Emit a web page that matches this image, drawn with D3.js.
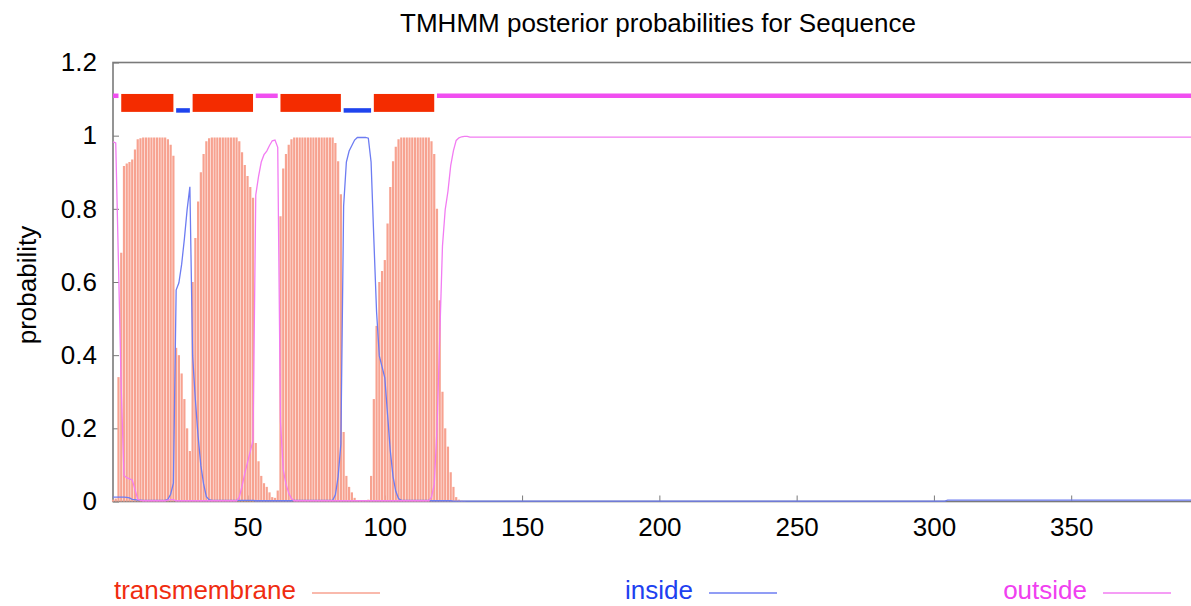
<!DOCTYPE html>
<html><head><meta charset="utf-8">
<script src="https://cdn.jsdelivr.net/npm/d3@7"></script>
<style>body{margin:0;background:#fff}svg{display:block}text{font-family:"Liberation Sans",Arial,Helvetica,sans-serif}</style>
</head><body><svg id="c" width="1191" height="606"></svg>
<script>
// posterior probabilities, residues 1..130 (index 0 = residue 1)
const tmProb = [
 .005,.008,.34,.68,.917,.924,.928,.935,.962,.99,
 .993,.995,.995,.995,.995,.995,.995,.995,.995,.995,
 .99,.975,.945,.42,.40,.35,.28,.20,.138,.60,
 .72,.82,.90,.95,.985,.993,.995,.995,.995,.995,
 .995,.995,.995,.995,.995,.995,.985,.955,.92,.89,
 .86,.83,.16,.11,.07,.05,.04,.025,.012,.01,
 .03,.78,.91,.95,.975,.99,.995,.995,.995,.995,
 .995,.995,.995,.995,.995,.995,.995,.995,.995,.995,
 .995,.98,.93,.84,.19,.07,.04,.025,.01,.003,
 .003,.003,.003,.005,.07,.28,.48,.60,.63,.66,
 .76,.86,.93,.97,.99,.995,.995,.995,.995,.995,
 .995,.995,.995,.995,.995,.995,.985,.95,.80,.55,
 .30,.20,.15,.08,.04,.012,.005,.002,.001,0];
const insideProb = [
 .012,.012,.012,.012,.012,.011,.01,.006,.005,.004,
 .004,.003,.003,.003,.003,.003,.003,.003,.003,.003,
 .006,.02,.05,.578,.598,.648,.718,.798,.86,.398,
 .278,.178,.098,.048,.013,.005,.003,.003,.003,.003,
 .003,.003,.003,.003,.003,.003,.003,.003,.003,.003,
 .003,.003,.002,.002,.002,.002,.002,.002,.002,.002,
 .002,.002,.002,.002,.002,.002,.003,.003,.003,.003,
 .003,.003,.003,.003,.003,.003,.003,.003,.003,.003,
 .003,.018,.068,.158,.808,.928,.958,.973,.988,.995,
 .995,.995,.995,.993,.928,.718,.518,.398,.368,.338,
 .238,.138,.068,.028,.008,.003,.003,.003,.003,.003,
 .003,.003,.003,.003,.003,.003,.002,.002,.002,.002,
 .002,.002,.002,.002,.001,.001,.001,.001,.001,.001];
const outsideProb = [
 .983,.98,.648,.308,.071,.065,.062,.059,.033,.006,
 .003,.002,.002,.002,.002,.002,.002,.002,.002,.002,
 .004,.005,.005,.002,.002,.002,.002,.002,.002,.002,
 .002,.002,.002,.002,.002,.002,.002,.002,.002,.002,
 .002,.002,.002,.002,.002,.002,.012,.042,.077,.107,
 .137,.167,.838,.888,.928,.948,.958,.973,.986,.988,
 .968,.218,.088,.048,.023,.008,.002,.002,.002,.002,
 .002,.002,.002,.002,.002,.002,.002,.002,.002,.002,
 .002,.002,.002,.002,.002,.002,.002,.002,.002,.002,
 .002,.002,.002,.002,.002,.002,.002,.002,.002,.002,
 .002,.002,.002,.002,.002,.002,.002,.002,.002,.002,
 .002,.002,.002,.002,.002,.002,.012,.047,.197,.447,
 .698,.798,.848,.918,.959,.987,.994,.997,.998,.998];
// flat tails after residue 130 (explicit points)
const insideTailPos = [131, 304, 305, 394];
const insideTailVal = [.001, .001, .004, .004];
const outsideTailPos = [131, 394];
const outsideTailVal = [.996, .996];
// predicted topology
const segType  = ["outside","TMhelix","inside","TMhelix","outside","TMhelix","inside","TMhelix","outside"];
const segStart = [1, 4, 24, 30, 53, 62, 85, 96, 119];
const segEnd   = [3, 23, 29, 52, 61, 84, 95, 118, 394];
const seqLength = 394;
const xTicks = [50,100,150,200,250,300,350];
const yTicks = [0,0.2,0.4,0.6,0.8,1,1.2];
const seriesNames = ["transmembrane","inside","outside"];
const titleText = "TMHMM posterior probabilities for Sequence";
const yLabel = "probability";

const svg = d3.select("#c");
const x = d3.scaleLinear().domain([1, seqLength]).range([113, 1192]);
const y = d3.scaleLinear().domain([0, 1.2]).range([501.5, 62.5]);
const FONT = 26;

// frame
svg.append("rect").attr("x", x(1)).attr("y", y(1.2)).attr("width", x(seqLength)-x(1)).attr("height", y(0)-y(1.2))
  .attr("fill","none").attr("stroke","#7a7a7a").attr("stroke-width",1.6);

// axes
const ya = svg.append("g").attr("transform",`translate(${x(1)},0)`)
  .call(d3.axisLeft(y).tickValues(yTicks).tickSizeInner(-6).tickSizeOuter(0).tickPadding(16)
    .tickFormat(d => String(+d.toFixed(1))));
ya.select(".domain").remove();
ya.selectAll("line").attr("stroke","#7a7a7a");
ya.selectAll("text").attr("font-size",FONT).attr("fill","#000").style("font-family",'"Liberation Sans",Arial,sans-serif');

const xa = svg.append("g").attr("transform",`translate(0,${y(0)})`)
  .call(d3.axisBottom(x).tickValues(xTicks).tickSizeInner(-6).tickSizeOuter(0).tickPadding(16));
xa.select(".domain").remove();
xa.selectAll("line").attr("stroke","#7a7a7a");
xa.selectAll("text").attr("font-size",FONT).attr("fill","#000").style("font-family",'"Liberation Sans",Arial,sans-serif');

// TM impulses
const tmData = tmProb.map((v,i)=>({p:i+1,v})).filter(d=>d.v>0);
svg.append("g").selectAll("line").data(tmData).join("line")
  .attr("x1",d=>x(d.p)).attr("x2",d=>x(d.p)).attr("y1",y(0)).attr("y2",d=>y(d.v))
  .attr("stroke","#f7a290").attr("stroke-width",2.2);

const line = d3.line().x(d=>x(d.p)).y(d=>y(d.v));
const insideData = insideProb.map((v,i)=>({p:i+1,v})).concat(insideTailPos.map((p,i)=>({p,v:insideTailVal[i]})));
const outsideData = outsideProb.map((v,i)=>({p:i+1,v})).concat(outsideTailPos.map((p,i)=>({p,v:outsideTailVal[i]})));
svg.append("path").datum(insideData).attr("d",line).attr("fill","none").attr("stroke","#6d7cf2").attr("stroke-width",1.3);
svg.append("path").datum(outsideData).attr("d",line).attr("fill","none").attr("stroke","#f27cf2").attr("stroke-width",1.3);

// topology bar
const segs = segType.map((t,i)=>({t,s:segStart[i],e:segEnd[i]}));
svg.append("g").selectAll("rect").data(segs.filter(d=>d.t==="TMhelix")).join("rect")
  .attr("x",d=>x(d.s)).attr("width",d=>x(d.e)-x(d.s)).attr("y",y(1.114)).attr("height",y(1.065)-y(1.114))
  .attr("fill","#f42c00");
svg.append("g").selectAll("line").data(segs.filter(d=>d.t!=="TMhelix")).join("line")
  .attr("x1",d=>x(d.s)).attr("x2",d=>x(d.e))
  .attr("y1",d=>d.t==="outside"?y(1.109):y(1.069)).attr("y2",d=>d.t==="outside"?y(1.109):y(1.069))
  .attr("stroke",d=>d.t==="outside"?"#f04ef0":"#1f44ee").attr("stroke-width",4.5);

// title & y label
svg.append("text").attr("x",658).attr("y",32).attr("text-anchor","middle").attr("font-size",FONT).attr("fill","#000").text(titleText);
svg.append("text").attr("transform","translate(36,285) rotate(-90)").attr("text-anchor","middle").attr("font-size",FONT).attr("fill","#000").text(yLabel);

// legend
const legTextEnd = [296, 693, 1087];
const legColorsText = ["#f02c10","#2040f0","#f040f0"];
const legColorsLine = ["#f7a290","#6d7cf2","#f27cf2"];
seriesNames.forEach((n,i)=>{
  svg.append("text").attr("x",legTextEnd[i]).attr("y",599).attr("text-anchor","end").attr("font-size",FONT).attr("fill",legColorsText[i]).text(n);
  svg.append("line").attr("x1",legTextEnd[i]+16).attr("x2",legTextEnd[i]+84).attr("y1",593).attr("y2",593).attr("stroke",legColorsLine[i]).attr("stroke-width",1.3);
});
</script></body></html>
